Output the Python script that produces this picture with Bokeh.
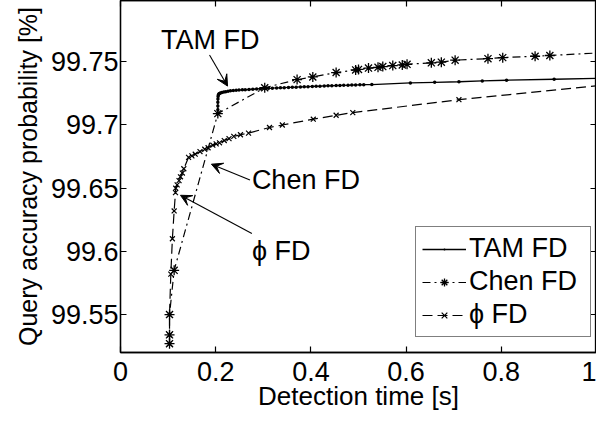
from bokeh.plotting import figure
from bokeh.models import (Range1d, FixedTicker, LinearAxis, Legend, LegendItem,
                          Arrow, VeeHead, Label)
from bokeh.embed import file_html
from bokeh.resources import INLINE

# ---------------- data ----------------
tam_x = [0.2045, 0.2045, 0.2045, 0.2045, 0.2047, 0.2050, 0.2055, 0.2065, 0.208, 0.210,
         0.213, 0.217, 0.221, 0.226, 0.231, 0.237, 0.243, 0.249, 0.256, 0.262,
         0.270, 0.278, 0.286, 0.294, 0.303, 0.311, 0.319, 0.328, 0.336, 0.344,
         0.353, 0.361, 0.369, 0.378, 0.386, 0.394, 0.403, 0.411, 0.419, 0.428,
         0.436, 0.444, 0.453, 0.461, 0.469, 0.478, 0.486, 0.494, 0.503, 0.511,
         0.528, 0.609, 0.660, 0.711, 0.760, 0.811, 0.911, 1.1]
tam_y = [99.709, 99.712, 99.715, 99.718, 99.7205, 99.7225, 99.7237, 99.7245, 99.725, 99.7254,
         99.7258, 99.7261, 99.7264, 99.7267, 99.727, 99.7272, 99.7274, 99.7276, 99.7278, 99.7279,
         99.7281, 99.7283, 99.7285, 99.7287, 99.7289, 99.729, 99.7291, 99.7293, 99.7294, 99.7295,
         99.7297, 99.7298, 99.7299, 99.7301, 99.7302, 99.7303, 99.7305, 99.7306, 99.7307, 99.7309,
         99.731, 99.7311, 99.7312, 99.7313, 99.7314, 99.7315, 99.7316, 99.7317, 99.7318, 99.7319,
         99.732, 99.7333, 99.7338, 99.7342, 99.7349, 99.7354, 99.7362, 99.7377]

chen_x = [0.103, 0.103, 0.103, 0.1127, 0.2045, 0.303, 0.371, 0.404, 0.453, 0.494,
          0.500, 0.521, 0.541, 0.551, 0.572, 0.592, 0.602, 0.653, 0.674, 0.703,
          0.772, 0.803, 0.871, 0.902, 1.03]
chen_y = [99.527, 99.534, 99.550, 99.585, 99.709, 99.7295, 99.7359, 99.738, 99.7415, 99.7436,
          99.744, 99.745, 99.7456, 99.7462, 99.747, 99.7475, 99.748, 99.7492, 99.7497, 99.7513,
          99.7525, 99.7533, 99.7544, 99.755, 99.7575]

phi_x = [0.103, 0.103, 0.103, 0.1057, 0.109, 0.1127, 0.1155, 0.116, 0.119, 0.123,
         0.126, 0.130, 0.133, 0.143, 0.150, 0.157, 0.167, 0.177, 0.184, 0.194,
         0.201, 0.208, 0.218, 0.228, 0.238, 0.252, 0.269, 0.313, 0.340, 0.405,
         0.453, 0.488, 0.711, 1.08]
phi_y = [99.527, 99.534, 99.550, 99.582, 99.610, 99.632, 99.6465, 99.650, 99.6526, 99.656,
         99.659, 99.662, 99.6654, 99.6744, 99.6756, 99.6769, 99.679, 99.6808, 99.682, 99.684,
         99.6851, 99.6859, 99.6877, 99.6892, 99.691, 99.6923, 99.6936, 99.698, 99.700, 99.7046,
         99.7077, 99.7098, 99.720, 99.734]

series_names = ["TAM FD", "Chen FD", "\u03d5 FD"]

x_ticks = [0, 0.2, 0.4, 0.6, 0.8, 1]
x_tick_labels = ["0", "0.2", "0.4", "0.6", "0.8", "1"]
y_ticks = [99.55, 99.6, 99.65, 99.7, 99.75]
y_tick_labels = ["99.55", "99.6", "99.65", "99.7", "99.75"]

x_label = "Detection time [s]"
y_label = "Query accuracy probability [%]"

# annotations: text, text position, arrow start, arrow end (data units)
ann_text = ["TAM FD", "Chen FD", "\u03d5 FD"]
ann_text_x = [0.085, 0.276, 0.276]
ann_text_y = [99.7673, 99.6563, 99.6004]
ann_from_x = [0.187, 0.272, 0.276]
ann_from_y = [99.7554, 99.6565, 99.6141]
ann_to_x = [0.2249, 0.191, 0.126]
ann_to_y = [99.7308, 99.669, 99.6444]

assert len(tam_x) == len(tam_y) and len(chen_x) == len(chen_y) and len(phi_x) == len(phi_y)

FONT = "Liberation Sans"
FS = "27px"

p = figure(width=596, height=413, output_backend="svg", toolbar_location=None,
           x_range=Range1d(0, 1), y_range=Range1d(99.52, 99.7985),
           min_border_left=120, min_border_right=0, min_border_top=0, min_border_bottom=0)
p.background_fill_color = "white"
p.border_fill_color = "white"
p.outline_line_color = "black"
p.outline_line_width = 1.3
p.xgrid.visible = False
p.ygrid.visible = False

def style_axis(ax, ticks, labels=None, show_labels=True):
    ax.ticker = FixedTicker(ticks=ticks)
    if labels is not None:
        ax.major_label_overrides = dict(zip(ticks, labels))
    ax.major_tick_in = 6
    ax.major_tick_out = 0
    ax.minor_tick_line_color = None
    ax.major_tick_line_color = "black"
    ax.major_tick_line_width = 1.2
    ax.axis_line_color = "black"
    ax.axis_line_width = 1.3
    ax.major_label_text_font = FONT
    ax.major_label_text_color = "black"
    if show_labels:
        ax.major_label_text_font_size = FS
    else:
        ax.major_label_text_font_size = "1px"
        ax.major_label_text_alpha = 0
        ax.major_label_standoff = 0
        ax.axis_label_standoff = 0

style_axis(p.xaxis[0], x_ticks, x_tick_labels)
style_axis(p.yaxis[0], y_ticks, y_tick_labels)
p.xaxis[0].major_label_standoff = 9
p.yaxis[0].major_label_standoff = 2
for ax in (p.xaxis[0], p.yaxis[0]):
    ax.axis_label_text_font = FONT
    ax.axis_label_text_font_style = "normal"
    ax.axis_label_text_color = "black"
p.xaxis[0].axis_label_text_font_size = "26px"
p.yaxis[0].axis_label_text_font_size = "25px"
p.xaxis[0].axis_label = x_label
p.yaxis[0].axis_label = y_label
p.xaxis[0].axis_label_standoff = -3
p.yaxis[0].axis_label_standoff = 6

top_ax = LinearAxis()
right_ax = LinearAxis()
style_axis(top_ax, x_ticks, show_labels=False)
style_axis(right_ax, y_ticks, show_labels=False)
p.add_layout(top_ax, "above")
p.add_layout(right_ax, "right")

# ---------------- series ----------------
tam_line = p.line(tam_x, tam_y, line_color="black", line_width=1.3)
tam_pts = p.scatter(tam_x, tam_y, marker="dot", size=14, fill_color="black", line_color="black")

chen_line = p.line(chen_x, chen_y, line_color="black", line_width=1.2, line_dash="8 4 2 4")
chen_pts = p.scatter(chen_x, chen_y, marker="asterisk", size=10, line_color="black", line_width=1.3)

phi_line = p.line(phi_x, phi_y, line_color="black", line_width=1.2, line_dash="10 5")
phi_pts = p.scatter(phi_x, phi_y, marker="x", size=7, line_color="black", line_width=1.2)

# ---------------- annotations ----------------
for t, tx, ty, fx, fy, ex, ey in zip(ann_text, ann_text_x, ann_text_y,
                                      ann_from_x, ann_from_y, ann_to_x, ann_to_y):
    p.add_layout(Label(x=tx, y=ty, text=t, text_font=FONT, text_font_size=FS,
                       text_color="black", text_baseline="middle", text_align="left"))
    p.add_layout(Arrow(x_start=fx, y_start=fy, x_end=ex, y_end=ey,
                       line_color="black", line_width=1.1,
                       end=VeeHead(size=11, fill_color="black", line_color="black", line_width=1)))

# ---------------- legend ----------------
legend = Legend(items=[LegendItem(label=series_names[0], renderers=[tam_line, tam_pts]),
                       LegendItem(label=series_names[1], renderers=[chen_line, chen_pts]),
                       LegendItem(label=series_names[2], renderers=[phi_line, phi_pts])],
                location=(295, 15), margin=0, padding=6, spacing=2,
                glyph_width=44, glyph_height=20, label_height=31, label_width=115,
                label_standoff=3,
                label_text_font=FONT, label_text_font_size=FS, label_text_color="black",
                border_line_color="black", border_line_width=1.2,
                background_fill_color="white", background_fill_alpha=1.0)
p.add_layout(legend, "center")

open("out.html", "w").write(file_html(p, INLINE))
